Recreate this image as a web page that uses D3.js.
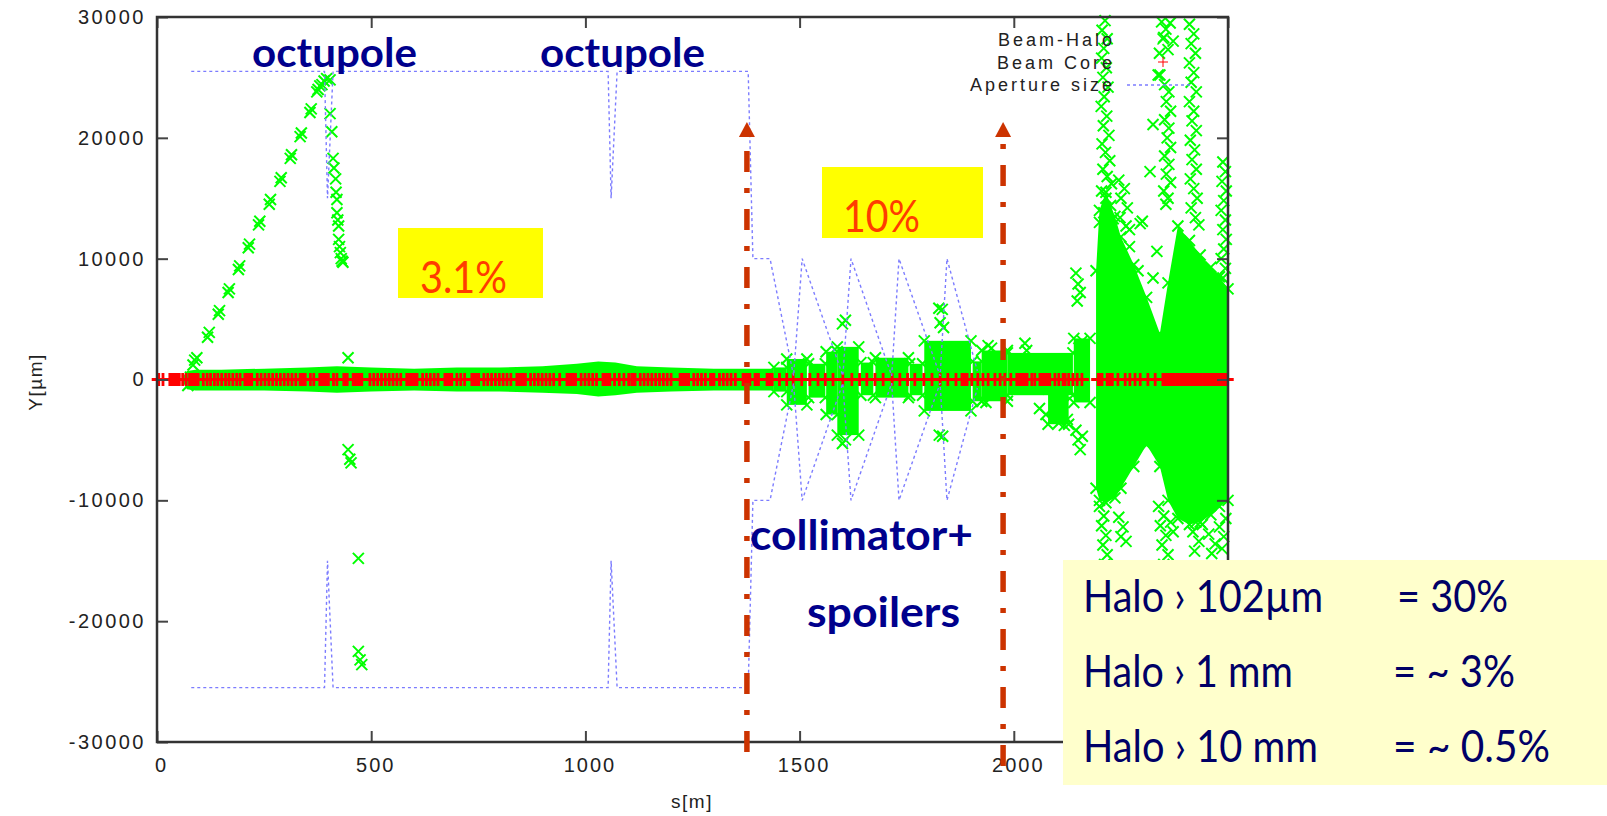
<!DOCTYPE html>
<html><head><meta charset="utf-8">
<script src="https://cdn.jsdelivr.net/npm/d3@7"></script>
<style>body{margin:0;background:#fff}svg{display:block}</style>
</head><body><svg id="c" width="1607" height="816"></svg>
<script>
// ---------------- DATA ----------------
const xTicks = [0, 500, 1000, 1500, 2000, 2500];
const yTicks = [-30000, -20000, -10000, 0, 10000, 20000, 30000];
const legendNames = ["Beam-Halo", "Beam Core", "Aperture size"];

// Aperture half-size (µm) vs s (m)
const apS = [80, 391, 398, 411, 1053, 1060, 1074, 1380, 1391, 1431, 1486, 1506, 1601, 1620, 1715, 1732, 1828, 1844, 1915];
const apA = [25500, 25500, 15000, 25500, 25500, 15000, 25500, 25500, 10000, 10000, 300, 10000, 300, 10000, 300, 10000, 300, 10000, 700];

// Beam core marker positions (s, m), all at Y = 0
const coreS = [4, 14, 30, 34, 38, 42, 46, 52, 60, 68, 76, 80, 84, 88, 92, 96, 108, 117, 125, 134, 142, 151, 160, 168, 177, 186, 194, 205, 209, 213, 217, 221, 234, 243, 252, 261, 270, 279, 288, 297, 306, 315, 324, 334, 338, 342, 346, 358, 366, 380, 384, 388, 392, 396, 400, 412, 420, 436, 440, 444, 458, 462, 466, 470, 474, 478, 497, 506, 515, 524, 533, 542, 551, 560, 569, 583, 587, 591, 595, 599, 603, 607, 620, 629, 638, 647, 656, 672, 676, 680, 684, 688, 700, 709, 718, 735, 739, 743, 747, 751, 763, 772, 781, 790, 799, 808, 817, 826, 840, 844, 848, 852, 856, 860, 872, 881, 890, 899, 908, 917, 926, 940, 957, 961, 965, 969, 973, 977, 990, 999, 1008, 1017, 1026, 1041, 1045, 1049, 1053, 1057, 1068, 1079, 1090, 1101, 1108, 1112, 1116, 1128, 1137, 1146, 1155, 1164, 1173, 1182, 1191, 1200, 1221, 1225, 1229, 1233, 1237, 1241, 1253, 1262, 1271, 1280, 1292, 1296, 1300, 1313, 1322, 1331, 1340, 1350, 1368, 1372, 1376, 1380, 1384, 1396, 1400, 1404, 1424, 1428, 1432, 1436, 1453, 1470, 1485, 1505, 1524, 1543, 1560, 1578, 1601, 1622, 1640, 1657, 1676, 1695, 1716, 1734, 1752, 1769, 1790, 1809, 1828, 1846, 1865, 1879, 1883, 1887, 1891, 1902, 1916, 1928, 1940, 1956, 1968, 1979, 1993, 2007, 2011, 2015, 2019, 2023, 2027, 2031, 2042, 2049, 2061, 2065, 2069, 2073, 2077, 2081, 2084, 2096, 2105, 2115, 2120, 2128, 2138, 2148, 2159, 2197, 2202, 2206, 2218, 2221, 2224, 2227, 2230, 2243, 2260, 2271, 2283, 2295, 2313, 2330, 2348, 2353, 2357, 2362, 2366, 2371, 2375, 2380, 2384, 2389, 2393, 2398, 2402, 2407, 2411, 2416, 2420, 2425, 2429, 2434, 2438, 2443, 2447, 2452, 2456, 2461, 2465, 2470, 2474, 2479, 2483, 2488, 2492, 2497];

// Dense halo band around the core (visual extent, µm)
const bandS  = [62, 70, 90, 150, 250, 350, 420, 500, 600, 700, 800, 900, 980, 1030, 1070, 1120, 1200, 1300, 1380, 1440];
const bandHi = [300, 700, 800, 800, 900, 1000, 1100, 1000, 900, 1000, 1000, 1100, 1300, 1500, 1400, 1100, 1000, 900, 900, 900];
const bandLo = [-300, -800, -900, -900, -900, -1000, -1100, -1000, -900, -1000, -1000, -1100, -1200, -1400, -1300, -1100, -1000, -900, -900, -900];

// Halo clusters in the collimator section: [s0, s1, top, bottom]
const blockS0 = [1440, 1470, 1521, 1562, 1588, 1643, 1677, 1757, 1791, 1904, 1925, 1985, 2080, 2140];
const blockS1 = [1470, 1517, 1560, 1588, 1638, 1672, 1754, 1787, 1900, 1925, 1985, 2138, 2128, 2178];
const blockHi = [1000, 1700, 1300, 2300, 2700, 1400, 1800, 1300, 3200, 1500, 2400, 2200, -800, 3400];
const blockLo = [-1000, -2100, -1500, -2900, -4600, -1300, -1500, -1300, -2600, -1800, -1800, -1300, -3700, -1900];

// Final-focus region envelope
const bigS  = [2192, 2200, 2215, 2236, 2250, 2280, 2310, 2341, 2360, 2383, 2410, 2435, 2460, 2480, 2500];
const bigHi = [9000, 14000, 15500, 13500, 11800, 9500, 6800, 3800, 8000, 12700, 11500, 10300, 9300, 8500, 7500];
const bigLo = [-9000, -10000, -10200, -9800, -9000, -7200, -5400, -7200, -10000, -11500, -12000, -11800, -11200, -10500, -10000];

// Individual halo particles [s, Y]
const rampPts = [[72,-500],[78,200],[84,1200],[88,1600],[93,1800],[118,3500],[122,3900],[143,5400],[146,5700],[166,7200],[169,7500],[190,9100],[193,9400],[213,10900],[216,11200],[237,12800],[240,13100],[262,14500],[265,14900],[287,16400],[290,16700],[311,18300],[314,18600],[334,20100],[337,20400],[357,22100],[360,22400],[373,23800],[376,24000],[380,24300],[385,24400],[390,24700],[396,24900],[404,24800]];
const octPts = [[404,22000],[408,20500],[411,18300],[413,17500],[417,16600],[418,15500],[420,14900],[420,13800],[422,13200],[424,12700],[424,11600],[426,11000],[428,10500],[430,10000],[432,9800],[434,9700],[446,1800],[446,-5800],[450,-6600],[453,-6900],[470,-14800],[470,-22500],[474,-23200],[478,-23600]];
const collPts = [[1600,4600],[1607,4900],[1600,-5300],[1607,-5000],[1825,5900],[1833,5800],[1828,4700],[1836,4300],[1826,-4600],[1834,-4700],[1940,2800],[1948,2600],[1935,-1900],[2060,-2400],[2075,-2900],[2090,-3300],[2105,-3600],[2118,-3800],[2125,-3300],[2100,-2800],[2112,-3000],[2026,3000],[2030,2400],[2145,8800],[2150,7900],[2155,7200],[2148,6500],[2160,3200],[2152,2600],[2145,-4200],[2150,-5000],[2155,-5800],[2160,-4700]];
const ffPts = [[2213,29700],[2206,28900],[2218,28200],[2210,27400],[2205,26600],[2216,25800],[2208,25000],[2220,24200],[2211,23400],[2204,22600],[2217,21800],[2209,21000],[2222,20200],[2206,19500],[2214,18800],[2224,18100],[2208,17400],[2218,16800],[2228,16200],[2205,15600],[2215,15000],[2226,14400],[2210,13800],[2232,13300],[2200,13000],
 [2245,16500],[2258,15800],[2250,15000],[2265,14200],[2248,13400],[2262,12700],[2270,12400],
 [2295,12900],[2300,13100],[2334,10600],[2325,8400],[2318,17200],[2325,21100],[2341,25200],[2270,11000],[2290,9000],
 [2345,29600],[2355,29000],[2365,29500],[2350,28300],[2372,28000],[2340,27000],[2360,27300],[2337,25200],[2352,24400],[2362,23800],[2356,23000],[2366,22200],[2352,21500],[2362,20800],[2358,20000],[2366,19200],[2352,18500],[2362,17800],[2356,17000],[2366,16300],[2350,15600],[2360,15000],[2355,14500],
 [2410,29400],[2420,28600],[2414,27800],[2424,27000],[2410,26200],[2420,25400],[2414,24600],[2426,23800],[2410,23000],[2420,22200],[2416,21400],[2426,20600],[2412,19800],[2422,19000],[2416,18200],[2426,17400],[2412,16600],[2420,15800],[2428,15000],[2414,14200],[2424,13400],[2432,12800],
 [2488,18000],[2494,17200],[2486,16400],[2496,15600],[2490,14800],[2484,14000],[2494,13200],[2488,12400],[2496,11600],[2490,10800],[2484,10000],[2494,9200],[2488,8400],
 [2200,-10500],[2210,-11300],[2205,-12100],[2215,-12900],[2208,-13700],[2218,-14500],[2212,-15300],[2206,-16500],[2215,-17500],
 [2245,-11400],[2255,-12200],[2250,-13000],[2262,-13400],
 [2338,-10500],[2350,-11300],[2342,-12100],[2355,-12900],[2346,-13700],[2360,-14500],[2350,-15300],[2366,-11800],[2372,-12600],
 [2412,-11000],[2425,-11800],[2418,-12600],[2432,-13400],[2422,-14200],[2440,-12000],[2455,-12800],[2470,-13600],[2462,-14400],[2480,-12200],[2490,-13000],[2486,-14000],[2495,-11500]];

const arrowS = [1377, 1975];
const infoLeft = ["Halo \u203A 102\u00B5m", "Halo \u203A 1 mm", "Halo \u203A 10 mm"];
const infoRight = ["= 30%", "= ~ 3%", "= ~ 0.5%"];

// ---------------- DRAW ----------------
const svg = d3.select("#c");
svg.append("rect").attr("width", 1607).attr("height", 816).attr("fill", "#fff");
const x = d3.scaleLinear().domain([0, 2500]).range([157, 1228]);
const y = d3.scaleLinear().domain([-30000, 30000]).range([742, 17]);
const GREEN = "#00ff00", RED = "#ff0000", BLUE = "#7c7cff";

const plot = svg.append("g");
svg.append("clipPath").attr("id", "pc").append("rect").attr("x", 150).attr("y", 10).attr("width", 1085).attr("height", 740);
plot.attr("clip-path", "url(#pc)");

// halo band
const band = bandS.map((s, i) => ({s, hi: bandHi[i], lo: bandLo[i]}));
const area = d3.area().x(d => x(d.s)).y0(d => y(d.lo)).y1(d => y(d.hi));
plot.append("path").datum(band).attr("d", area).attr("fill", GREEN);
const big = bigS.map((s, i) => ({s, hi: bigHi[i], lo: bigLo[i]}));
plot.append("path").datum(big).attr("d", area).attr("fill", GREEN);
plot.selectAll("rect.blk").data(blockS0).join("rect").attr("class", "blk")
  .attr("x", (d, i) => x(d)).attr("width", (d, i) => x(blockS1[i]) - x(d))
  .attr("y", (d, i) => y(blockHi[i])).attr("height", (d, i) => y(blockLo[i]) - y(blockHi[i]))
  .attr("fill", GREEN);

const xMark = "M-5.5,-5.5L5.5,5.5M-5.5,5.5L5.5,-5.5";
// ragged edges: particles on the envelope vertices
const edgePts = big.flatMap(d => [[d.s, d.hi], [d.s, d.lo]])
  .concat(blockS0.flatMap((s, i) => [[s, blockHi[i]], [blockS1[i], blockHi[i]], [s, blockLo[i]], [blockS1[i], blockLo[i]]]));
const allHalo = rampPts.concat(octPts, collPts, ffPts, edgePts);
plot.selectAll("path.h").data(allHalo).join("path").attr("class", "h")
  .attr("d", xMark).attr("transform", d => `translate(${x(d[0])},${y(d[1])})`)
  .attr("stroke", GREEN).attr("stroke-width", 2).attr("fill", "none");

// core
const plusMark = "M-7,0H7M0,-6.5V6.5";
plot.selectAll("path.c").data(coreS).join("path").attr("class", "c")
  .attr("d", plusMark).attr("transform", d => `translate(${x(d)},${y(0)})`)
  .attr("stroke", RED).attr("stroke-width", 2.8).attr("fill", "none");

// aperture
const ap = apS.map((s, i) => [s, apA[i]]);
const apLine = d3.line().x(d => x(d[0])).y(d => y(d[1]));
plot.append("path").datum(ap).attr("d", apLine).attr("fill", "none").attr("stroke", BLUE).attr("stroke-width", 1.4).attr("stroke-dasharray", "3,3");
plot.append("path").datum(ap.map(d => [d[0], -d[1]])).attr("d", apLine).attr("fill", "none").attr("stroke", BLUE).attr("stroke-width", 1.4).attr("stroke-dasharray", "3,3");

// axes
const tickStyle = g => { g.select(".domain").remove(); g.selectAll("line").attr("stroke", "#444").attr("stroke-width", 2); };
const txtStyle = g => g.selectAll("text").attr("font-family", "Liberation Sans, Arial, sans-serif").attr("font-size", 20).attr("fill", "#222");
svg.append("g").attr("transform", "translate(157,0)")
  .call(d3.axisLeft(y).tickValues(yTicks).tickSize(-11).tickPadding(11).tickFormat(d => String(d)))
  .call(tickStyle).call(txtStyle).call(g => g.selectAll("text").attr("letter-spacing", 2.5));
// the 2500 label lies under the info box in the original, so it is left empty
svg.append("g").attr("transform", "translate(0,742)")
  .call(d3.axisBottom(x).tickValues(xTicks).tickSize(-11).tickPadding(16).tickFormat(d => d === 2500 ? "" : String(d)))
  .call(tickStyle).call(txtStyle).call(g => g.selectAll("text").attr("letter-spacing", 2).attr("dx", 4));
svg.append("g").attr("transform", "translate(0,17)")
  .call(d3.axisTop(x).tickValues(xTicks).tickSize(-11).tickFormat(""))
  .call(tickStyle);
svg.append("g").attr("transform", "translate(1228,0)")
  .call(d3.axisRight(y).tickValues(yTicks).tickSize(-11).tickFormat(""))
  .call(tickStyle);
svg.append("rect").attr("x", 157).attr("y", 17).attr("width", 1071).attr("height", 725)
  .attr("fill", "none").attr("stroke", "#333").attr("stroke-width", 2.5);

svg.append("text").attr("x", 692).attr("y", 808).attr("text-anchor", "middle")
  .attr("font-family", "Liberation Sans, Arial, sans-serif").attr("font-size", 19).attr("letter-spacing", 1.5).attr("fill", "#222").text("s[m]");
svg.append("text").attr("transform", "translate(42,382) rotate(-90)").attr("text-anchor", "middle")
  .attr("font-family", "Liberation Sans, Arial, sans-serif").attr("font-size", 19).attr("letter-spacing", 1.5).attr("fill", "#222").text("Y[\u00B5m]");

// legend
const lg = svg.append("g");
const lgY = [46, 69, 91];
lg.selectAll("text").data(legendNames).join("text")
  .attr("x", 1115).attr("y", (d, i) => lgY[i]).attr("text-anchor", "end")
  .attr("font-family", "Liberation Sans, Arial, sans-serif").attr("font-size", 18).attr("letter-spacing", 3).attr("fill", "#222").text(d => d);
lg.append("path").attr("d", xMark).attr("transform", "translate(1163,39)").attr("stroke", GREEN).attr("stroke-width", 1.5).attr("fill", "none");
lg.append("path").attr("d", "M-5,0H5M0,-5V5").attr("transform", "translate(1163,62)").attr("stroke", RED).attr("stroke-width", 1).attr("fill", "none");
lg.append("line").attr("x1", 1127).attr("x2", 1193).attr("y1", 85).attr("y2", 85).attr("stroke", BLUE).attr("stroke-width", 1.4).attr("stroke-dasharray", "3,3");

// annotations
const ANN = "Lato, 'Noto Sans', sans-serif";
const navy = "#00008c";
function label(t, cx, by, w, size, weight, color) {
  svg.append("text").attr("x", cx).attr("y", by).attr("text-anchor", "middle")
    .attr("font-family", ANN).attr("font-size", size).attr("font-weight", weight).attr("fill", color)
    .attr("textLength", w).attr("lengthAdjust", "spacingAndGlyphs").text(t);
}
label("octupole", 334.5, 67, 165, 40, 700, navy);
label("octupole", 622.5, 67, 165, 40, 700, navy);
label("collimator+", 861.5, 550, 223, 42, 700, navy);
label("spoilers", 883.5, 627, 153, 42, 700, navy);

svg.append("rect").attr("x", 398).attr("y", 228).attr("width", 145).attr("height", 70).attr("fill", "#ffff00");
svg.append("rect").attr("x", 822).attr("y", 167).attr("width", 161).attr("height", 71).attr("fill", "#ffff00");
label("3.1%", 463.5, 293, 87, 44, 400, "#ff3c00");
label("10%", 881.5, 232, 77, 44, 400, "#ff3c00");

// arrows
const arrowBottom = [752, 766];
arrowS.forEach((s, i) => {
  const ax = x(s);
  svg.append("line").attr("x1", ax).attr("x2", ax).attr("y1", arrowBottom[i]).attr("y2", 137)
    .attr("stroke", "#cc3300").attr("stroke-width", 5.5).attr("stroke-dasharray", "21,16,5,16");
  svg.append("path").attr("d", `M${ax},122L${ax - 8},137L${ax + 8},137Z`).attr("fill", "#cc3300");
});

// info box
svg.append("rect").attr("x", 1063).attr("y", 560).attr("width", 544).attr("height", 225).attr("fill", "#ffffcc");
const infoY = [612, 687, 762];
const infoLW = [240, 210, 235];
const infoRX = [1397, 1393, 1393];
const infoRW = [111, 122, 157];
infoLeft.forEach((t, i) => {
  svg.append("text").attr("x", 1083).attr("y", infoY[i]).attr("font-family", ANN).attr("font-size", 44).attr("fill", "#000066")
    .attr("textLength", infoLW[i]).attr("lengthAdjust", "spacingAndGlyphs").text(t);
  svg.append("text").attr("x", infoRX[i]).attr("y", infoY[i]).attr("font-family", ANN).attr("font-size", 44).attr("fill", "#000066")
    .attr("textLength", infoRW[i]).attr("lengthAdjust", "spacingAndGlyphs").text(infoRight[i]);
});
</script></body></html>
